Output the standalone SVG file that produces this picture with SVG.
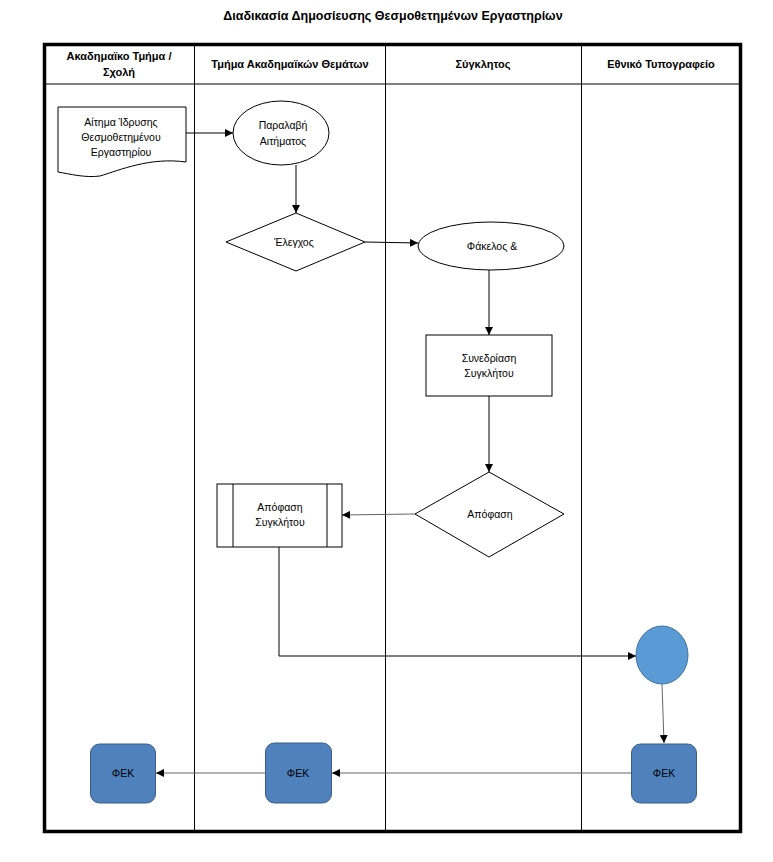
<svg xmlns="http://www.w3.org/2000/svg" width="773" height="862" viewBox="0 0 773 862">
<defs>
<marker id="ah" viewBox="0 0 10 10" refX="10" refY="5" markerWidth="8" markerHeight="8" markerUnits="userSpaceOnUse" orient="auto">
<path d="M0,0 L10,5 L0,10 z" fill="#000"/>
</marker>
<style>
text{font-family:"Liberation Sans","DejaVu Sans",sans-serif;fill:#000;text-anchor:middle}
.t{font-size:12.5px;font-weight:bold}
.h{font-size:11px;font-weight:bold}
.n{font-size:10.5px}
.s{fill:#fff;stroke:#000;stroke-width:1}
.fek{fill:#4F81BD;stroke:#385D8A;stroke-width:1}
.c{fill:none;stroke:#000;stroke-width:1;marker-end:url(#ah)}
.g{fill:none;stroke:#666;stroke-width:1;marker-end:url(#ah)}
</style>
</defs>
<rect width="773" height="862" fill="#fff"/>
<text class="t" x="393" y="20">Διαδικασία Δημοσίευσης Θεσμοθετημένων Εργαστηρίων</text>
<g id="lanes">
<rect x="44.5" y="44.5" width="696" height="787" fill="none" stroke="#000" stroke-width="3.5"/>
<line x1="44" y1="84" x2="741" y2="84" stroke="#000" stroke-width="1"/>
<line x1="194.5" y1="44" x2="194.5" y2="832" stroke="#000" stroke-width="1"/>
<line x1="385.5" y1="44" x2="385.5" y2="832" stroke="#000" stroke-width="1"/>
<line x1="581.5" y1="44" x2="581.5" y2="832" stroke="#000" stroke-width="1"/>
<text class="h" x="119" y="60">Ακαδημαϊκο Τμήμα /</text>
<text class="h" x="119" y="76">Σχολή</text>
<text class="h" x="290" y="68">Τμήμα Ακαδημαϊκών Θεμάτων</text>
<text class="h" x="483" y="68">Σύγκλητος</text>
<text class="h" x="661" y="68">Εθνικό Τυπογραφείο</text>
</g>
<g id="connectors">
<line class="c" x1="186" y1="133" x2="233" y2="133"/>
<line class="c" x1="296" y1="165" x2="296" y2="213"/>
<line class="c" x1="365" y1="242" x2="418" y2="243"/>
<line class="c" x1="489" y1="270" x2="489" y2="335"/>
<line class="c" x1="489" y1="396" x2="489" y2="472"/>
<line class="g" x1="415" y1="514" x2="342" y2="515"/>
<polyline class="c" points="279,547 279,656 636,656"/>
<line class="g" x1="662" y1="684" x2="664" y2="743"/>
<line class="g" x1="631" y1="773" x2="332" y2="773"/>
<line class="g" x1="265" y1="773" x2="156" y2="773"/>
</g>
<g id="n-request">
<path class="s" d="M58,107 H186 V162 C150,157 120,170 100,176 C85,178 70,174 58,172 Z"/>
<text class="n" x="121" y="126">Αίτημα Ίδρυσης</text>
<text class="n" x="121" y="141">Θεσμοθετημένου</text>
<text class="n" x="121" y="156">Εργαστηρίου</text>
</g>
<g id="n-receive">
<ellipse class="s" cx="281" cy="133" rx="48" ry="32"/>
<text class="n" x="283" y="129">Παραλαβή</text>
<text class="n" x="283" y="145">Αιτήματος</text>
</g>
<g id="n-check">
<polygon class="s" points="226,242 296,213 365,242 296,271"/>
<text class="n" x="294" y="246">Έλεγχος</text>
</g>
<g id="n-folder">
<ellipse class="s" cx="491" cy="246" rx="73" ry="24"/>
<text class="n" x="492" y="250">Φάκελος &amp;</text>
</g>
<g id="n-session">
<rect class="s" x="426" y="335" width="126" height="61"/>
<text class="n" x="489" y="362">Συνεδρίαση</text>
<text class="n" x="489" y="377">Συγκλήτου</text>
</g>
<g id="n-decision">
<polygon class="s" points="415,514 489,472 564,514 489,557"/>
<text class="n" x="490" y="518">Απόφαση</text>
</g>
<g id="n-senate-decision">
<rect class="s" x="217" y="484" width="125" height="63"/>
<line x1="233" y1="484" x2="233" y2="547" stroke="#000" stroke-width="1"/>
<line x1="327" y1="484" x2="327" y2="547" stroke="#000" stroke-width="1"/>
<text class="n" x="280" y="511">Απόφαση</text>
<text class="n" x="280" y="526">Συγκλήτου</text>
</g>
<g id="n-circle">
<ellipse cx="662" cy="655" rx="26" ry="29" fill="#5B9BD5" stroke="#41719C" stroke-width="1"/>
</g>
<g id="n-fek3">
<rect class="fek" x="631.5" y="744" width="65" height="59" rx="9"/>
<text class="n" x="664" y="777">ΦΕΚ</text>
</g>
<g id="n-fek2">
<rect class="fek" x="265.5" y="743" width="66" height="60" rx="9"/>
<text class="n" x="298" y="777">ΦΕΚ</text>
</g>
<g id="n-fek1">
<rect class="fek" x="90.5" y="744" width="65" height="59" rx="9"/>
<text class="n" x="123" y="777">ΦΕΚ</text>
</g>
</svg>
